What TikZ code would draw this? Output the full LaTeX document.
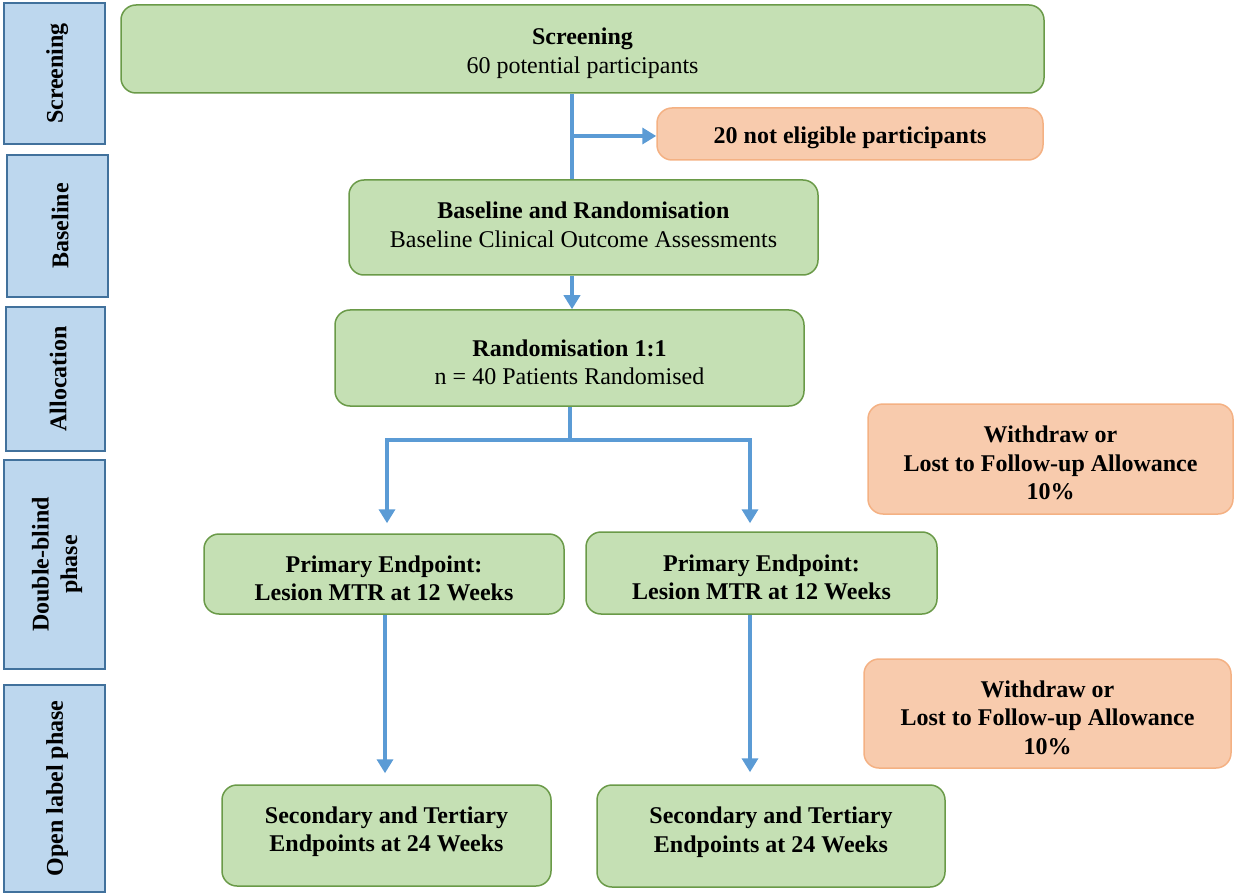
\documentclass[tikz,border=0pt]{standalone}
\usepackage{fontspec}
\setmainfont{Liberation Serif}
\usetikzlibrary{arrows.meta}
\definecolor{gfill}{HTML}{C5E0B4}
\definecolor{gline}{HTML}{6A9A48}
\definecolor{ofill}{HTML}{F8CBAD}
\definecolor{oline}{HTML}{F4B183}
\definecolor{bfill}{HTML}{BDD7EE}
\definecolor{bline}{HTML}{41719C}
\definecolor{conn}{HTML}{5B9BD5}
\newcommand\tpstrut{\rule{0pt}{25pt}}
\tikzset{
  every node/.style={font=\fontsize{24}{28.5}\selectfont, align=center, inner sep=0pt},
  gbox/.style={draw=gline, fill=gfill, line width=1.5pt, rounded corners=15pt},
  obox/.style={draw=oline, fill=ofill, line width=1.5pt, rounded corners=15pt},
  sidebox/.style={draw=bline, fill=bfill, line width=2pt, rotate=90, font=\fontsize{24}{28.5}\selectfont\bfseries},
  cline/.style={draw=conn, line width=4pt},
  carr/.style={cline, -{Triangle[width=16pt,length=14pt]}},
}
\begin{document}
\begin{tikzpicture}[x=1pt,y=-1pt]
\useasboundingbox (0,0) rectangle (1234,893);
% side bars
\node[sidebox, minimum width=141, minimum height=101] (sb1) at (54.5,73.5) {\rule{0pt}{22pt}Screening};
\node[sidebox, minimum width=142, minimum height=101] (sb2) at (57.5,226) {\rule{0pt}{22pt}Baseline};
\node[sidebox, minimum width=144, minimum height=99] (sb3) at (55.5,379) {\rule{0pt}{22pt}Allocation};
\node[sidebox, minimum width=209, minimum height=101] (sb4) at (54.5,564.5) {\rule{0pt}{22pt}Double-blind\\phase};
\node[sidebox, minimum width=207, minimum height=101] (sb5) at (54.5,788.5) {\rule{0pt}{22pt}Open label phase};
% main boxes
\node[gbox, minimum width=923, minimum height=88] (scr) at (582.5,49) {\tpstrut\textbf{Screening}\\60 potential participants};
\node[obox, minimum width=386, minimum height=52] (ne) at (850,134) {\tpstrut\textbf{20 not eligible participants}};
\node[gbox, minimum width=469, minimum height=95] (base) at (583.5,227.5) {\textbf{Baseline and Randomisation}\\Baseline Clinical Outcome Assessments\rule[-6pt]{0pt}{0pt}};
\node[gbox, minimum width=469, minimum height=96] (rand) at (569.5,358) {\tpstrut\textbf{Randomisation 1:1}\\n = 40 Patients Randomised};
\node[obox, minimum width=365, minimum height=110] (w1) at (1050.5,459) {\tpstrut\textbf{Withdraw or}\\\textbf{Lost to Follow-up Allowance}\\\textbf{10\%}};
\node[gbox, minimum width=360, minimum height=80] (p1) at (384,574) {\tpstrut\textbf{Primary Endpoint:}\\\textbf{Lesion MTR at 12 Weeks}};
\node[gbox, minimum width=351, minimum height=82] (p2) at (761.5,573) {\tpstrut\textbf{Primary Endpoint:}\\\textbf{Lesion MTR at 12 Weeks}};
\node[obox, minimum width=367, minimum height=109] (w2) at (1047.5,713.5) {\tpstrut\textbf{Withdraw or}\\\textbf{Lost to Follow-up Allowance}\\\textbf{10\%}};
\node[gbox, minimum width=329, minimum height=101] (s1) at (386.5,835.5) {\textbf{Secondary and Tertiary}\\\textbf{Endpoints at 24 Weeks}\rule[-13pt]{0pt}{0pt}};
\node[gbox, minimum width=348, minimum height=102] (s2) at (771,836) {\textbf{Secondary and Tertiary}\\\textbf{Endpoints at 24 Weeks}\rule[-13pt]{0pt}{0pt}};
% connectors
\coordinate (xm) at (572,0);
\coordinate (br) at (572,136);
\coordinate (split) at (570,440);
\coordinate (lx) at (387,440);
\coordinate (rx) at (750,440);
\coordinate (lx2) at (385,0);
\draw[cline] (scr.south -| xm) -- (base.north -| xm);
\draw[carr] (br) -- (br -| ne.west);
\draw[carr] (base.south -| xm) -- (rand.north -| xm);
\draw[cline] (rand.south -| split) -- (split);
\draw[carr, shorten >=10pt] (split) -| (lx |- p1.north);
\draw[carr, shorten >=8pt] (split) -| (rx |- p2.north);
\draw[carr, shorten >=11pt] (p1.south -| lx2) -- (s1.north -| lx2);
\draw[carr, shorten >=12pt] (p2.south -| rx) -- (s2.north -| rx);
\end{tikzpicture}
\end{document}
